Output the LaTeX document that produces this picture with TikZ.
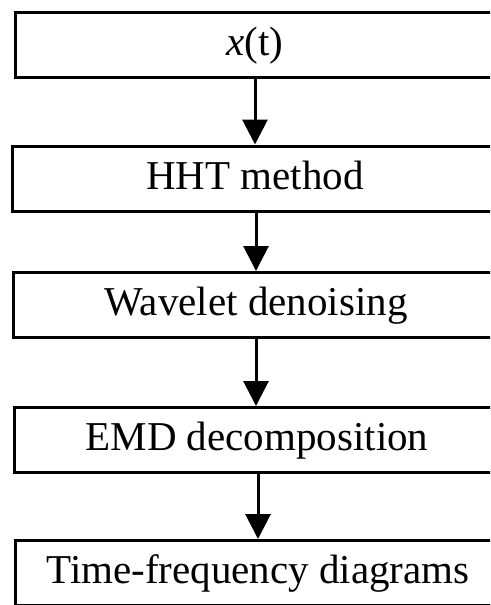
\documentclass[tikz,border=0pt]{standalone}
\usepackage{fontspec}
\setmainfont{Liberation Serif}
\usetikzlibrary{arrows.meta}
\begin{document}
\begin{tikzpicture}[x=1pt,y=-1pt,
  stepbox/.style={draw=black,line width=3pt,rectangle,minimum width=486pt,minimum height=65pt,
    inner sep=0pt,text height=29pt,text depth=8pt,
    font=\fontsize{41}{48}\selectfont},
  flow/.style={line width=3pt,-{Triangle[length=25pt,width=25pt]}}]
\useasboundingbox (0,0) rectangle (490,605);
\clip (0,0) rectangle (490,605);
\node[stepbox,minimum width=480pt] (b1) at (255,44.5) {\textit{x}(t)};
\node[stepbox] (b2) at (255,178.5) {HHT method};
\node[stepbox] (b3) at (256,305) {Wavelet denoising};
\node[stepbox] (b4) at (257,440) {EMD decomposition};
\node[stepbox] (b5) at (258,573) {Time-frequency diagrams};
\draw[flow] (b1.south) -- (b1.south |- b2.north);
\draw[flow] (b2.south -| b3.north) -- (b3.north);
\draw[flow] (b3.south) -- (b3.south |- b4.north);
\draw[flow] (b4.south -| b5.north) -- (b5.north);
\end{tikzpicture}
\end{document}
